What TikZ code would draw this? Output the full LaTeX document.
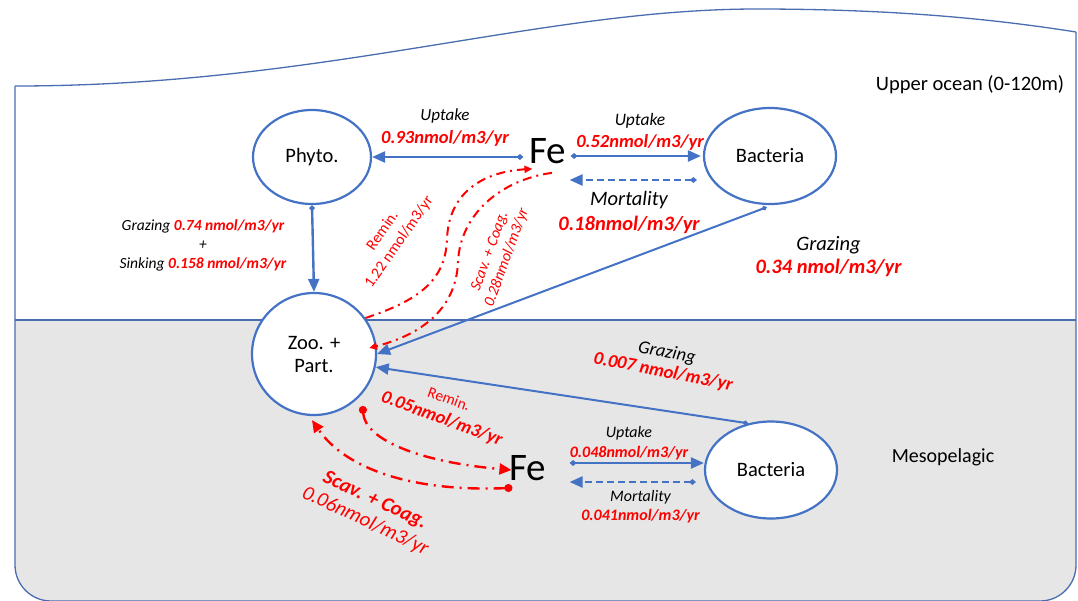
\documentclass[tikz,border=0pt]{standalone}
\usepackage{fontspec}
\setmainfont{Carlito}
\usetikzlibrary{arrows.meta,shapes.geometric,calc}
\definecolor{oblue}{HTML}{4472C4}
\definecolor{framec}{HTML}{4A6DB0}
\definecolor{ogray}{HTML}{E7E6E6}
\definecolor{ored}{HTML}{FF0000}
\newcommand\myfs[2]{\fontsize{#1}{#2}\selectfont}
\newcommand\blk[2]{{\fontsize{#1}{#1}\selectfont\mdseries\color{black}#2}}
\newcommand\rml[2]{{\fontsize{#1}{#1}\selectfont\mdseries\upshape #2}}
\tikzset{
  comp/.style={ellipse, draw=oblue, line width=2.2, fill=white, inner sep=0, align=center, font=\myfs{20.5}{23}},
  fe/.style={inner sep=0, font=\myfs{39}{40}},
  flow/.style={oblue, line width=2.4, {Diamond[length=7pt,width=6pt]}-{Triangle[length=13pt,width=11pt]}},
  thin flow/.style={oblue, line width=2, {Diamond[length=6pt,width=5pt]}-{Triangle[length=13pt,width=11pt]}},
  mort/.style={flow, dash pattern=on 7pt off 4pt},
  redtop/.style={ored, line width=2, dash pattern=on 9pt off 5pt on 2pt off 5pt, -{Triangle[length=8pt,width=7pt]}},
  redbot/.style={ored, line width=2.4, dash pattern=on 12pt off 6pt on 2pt off 6pt, {Circle[length=8pt]}-{Triangle[length=12pt,width=11pt]}},
  pair/.style 2 args={inner sep=0, align=center, text=ored, font=\myfs{#1}{#2}\bfseries\itshape},
}
\begin{document}
\begin{tikzpicture}[x=1pt,y=-1pt]
\useasboundingbox (0,0) rectangle (1078,600);
\clip (0,0) rectangle (1078,600);
% background regions
\begin{scope}
  \clip (0,320) rectangle (1078,600);
  \fill[ogray, rounded corners=36] (15,0) -- (1076,0) -- (1076,601) -- (15,601) -- cycle;
\end{scope}
\draw[framec, line width=1.3] (15,86) .. controls (320,86) and (540,9) .. (757,9) .. controls (900,9) and (1000,20) .. (1076,32);
\draw[framec, line width=1.3, rounded corners=36] (1076,32) -- (1076,601) -- (15,601) -- (15,86);
\draw[framec, line width=1.3] (15,320) -- (1076,320);
\node[font=\myfs{20.5}{24}] (upper) at (970,85) {Upper ocean (0-120m)};
\node[font=\myfs{20}{24}] (meso) at (943,457) {Mesopelagic};
% compartments
\node[comp, minimum width=118, minimum height=94] (phyto) at (312,157) {Phyto.};
\node[comp, minimum width=124, minimum height=122] (zoo) at (314,354) {Zoo. +\\Part.};
\node[comp, minimum width=132, minimum height=96] (bacT) at (770,156) {Bacteria};
\node[comp, minimum width=132, minimum height=97] (bacB) at (771,470) {Bacteria};
\node[fe] (feT) at (548,151) {Fe};
\node[fe] (feB) at (528,468) {Fe};
% upper ocean blue flows
\draw[flow] ($(feT.west)+(-6,6)$) -- (phyto.east);
\draw[flow] ($(feT.east)+(4,5)$) -- ($(bacT.west)+(-2,0)$);
\draw[mort] ($(bacT.west)+(-6,24)$) -- ($(feT.east)+(3,29)$);
\draw[oblue, line width=2.4, {Diamond[length=6pt,width=6pt]}-{Triangle[length=13pt,width=11pt]}] (phyto.south) -- (zoo.north);
\draw[thin flow] ($(bacT.south)+(-3,2)$) -- (zoo.east);
% mesopelagic blue flows
\draw[thin flow] (bacB.116) -- (zoo.-12);
\draw[flow] ($(feB.east)+(23,-5)$) -- ($(bacB.west)+(0,-7)$);
\draw[mort] ($(bacB.west)+(-8,12)$) -- ($(feB.east)+(23,14)$);
% red flows
\draw[redtop] (zoo.35) .. controls (420,300) and (445,280) .. (447,240) .. controls (448,195) and (480,172) .. ($(feT.south west)+(3,5)$);
\draw[redtop] ($(feT.south)+(4,9)$) .. controls (500,180) and (460,215) .. (458,262) .. controls (456,310) and (420,335) .. ($(zoo.east)+(-8,-6)$);
\draw[redbot] ($(zoo.south east)+(4,8)$) .. controls (365,440) and (420,462) .. ($(feB.west)+(2,2)$);
\draw[redbot] ($(feB.south west)+(3,7)$) .. controls (410,492) and (345,468) .. ($(zoo.south)+(-2,4)$);
% labels upper
\node[pair={18.5}{23}] (u1) at (445,127.5) {\blk{17}{Uptake}\\0.93nmol/m3/yr};
\node[pair={18.5}{22}] (u2) at (640,132) {\blk{17.5}{Uptake}\\0.52nmol/m3/yr};
\node[pair={20.5}{25}] (m1) at (629,212.5) {\blk{20.5}{Mortality}\\0.18nmol/m3/yr};
\node[pair={20.5}{23}] (g1) at (828.5,256.5) {\blk{20.5}{Grazing}\\0.34 nmol/m3/yr};
\node[inner sep=0, align=center, font=\myfs{15.5}{19}\itshape] (gs) at (203,245.5)
  {Grazing \textcolor{ored}{\bfseries 0.74 nmol/m3/yr}\\+\\Sinking \textcolor{ored}{\bfseries 0.158 nmol/m3/yr}};
\node[inner sep=0, align=center, text=ored, font=\myfs{15.5}{20}, rotate=55] (r1) at (391,236.5) {Remin.\\1.22 nmol/m3/yr};
\node[inner sep=0, align=center, text=ored, font=\myfs{15.5}{18}\itshape, rotate=70] (s1) at (498.5,254.5) {Scav. + Coag.\\0.28nmol/m3/yr};
% labels mesopelagic
\node[pair={18.5}{19.5}, rotate=-11] (g2) at (665,362.5) {\blk{18.5}{Grazing}\\0.007 nmol/m3/yr};
\node[pair={16}{20}] (u3) at (629,443) {\blk{16}{Uptake}\\0.048nmol/m3/yr};
\node[pair={16}{19}] (m2) at (640.5,506.5) {\blk{16}{Mortality}\\0.041nmol/m3/yr};
\node[pair={18.5}{21}, rotate=-20] (r2) at (445,410) {\rml{15.5}{Remin.}\\0.05nmol/m3/yr};
\node[inner sep=0, align=center, text=ored, font=\myfs{20.5}{23}\itshape, rotate=-25] (s2) at (370,511) {{\bfseries Scav. + Coag.}\\0.06nmol/m3/yr};
\end{tikzpicture}
\end{document}
